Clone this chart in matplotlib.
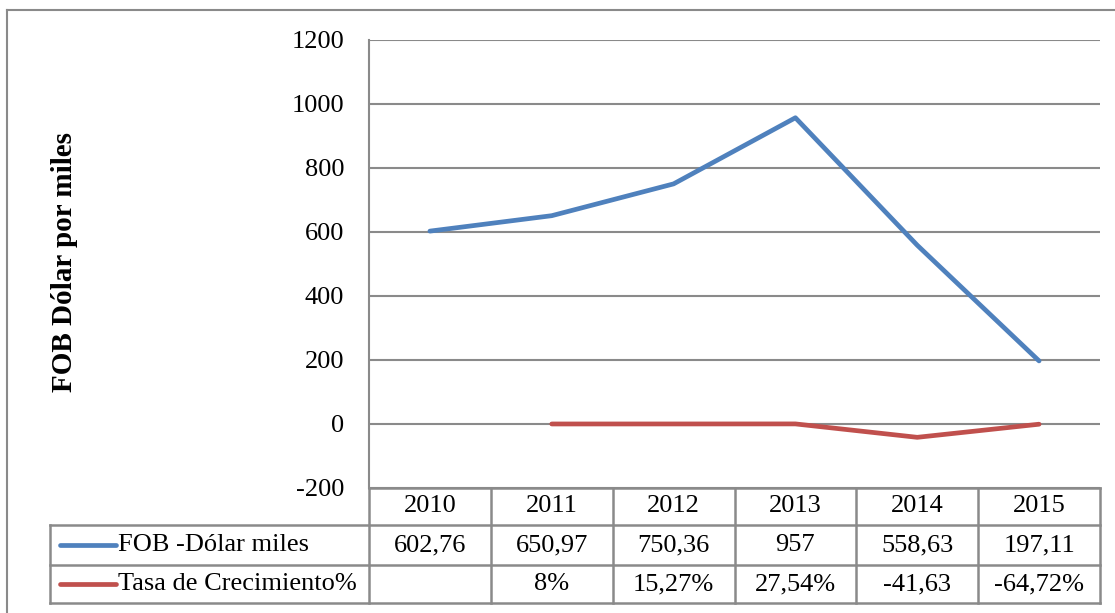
import matplotlib
matplotlib.use("Agg")
import matplotlib.pyplot as plt
import numpy as np
from matplotlib.lines import Line2D
from matplotlib.transforms import blended_transform_factory

years = ["2010", "2011", "2012", "2013", "2014", "2015"]
fob = [602.76, 650.97, 750.36, 957, 558.63, 197.11]
tasa = [np.nan, 0.08, 0.1527, 0.2754, -41.63, -0.6472]
fob_labels = ["602,76", "650,97", "750,36", "957", "558,63", "197,11"]
tasa_labels = ["", "8%", "15,27%", "27,54%", "-41,63", "-64,72%"]
series_names = ["FOB -Dólar miles", "Tasa de Crecimiento%"]
yticks = [-200, 0, 200, 400, 600, 800, 1000, 1200]

plt.rcParams['font.family'] = ['Liberation Serif', 'DejaVu Serif']

W, H = 1115, 613
fig = plt.figure(figsize=(W / 100, H / 100), dpi=100)
grid_c = "#8a8a8a"
blue = "#4F81BD"
red = "#C0504D"
fs = 19

def fx(px):
    return px / W

def fy(py):
    return 1 - py / H

x0, x1 = 369, 1100
y_top, y_bot = 40, 488
ax = fig.add_axes([fx(x0), fy(y_bot), fx(x1) - fx(x0), fy(y_top) - fy(y_bot)])
ax.set_xlim(-0.5, len(years) - 0.5)
ax.set_ylim(-200, 1200)
ax.set_yticks(yticks)
ax.set_yticklabels([str(t) for t in yticks], fontsize=fs)
ax.tick_params(axis='y', length=0, pad=18)
ax.set_xticks([])
for s in ["top", "right", "bottom"]:
    ax.spines[s].set_visible(False)
ax.spines["left"].set_color(grid_c)
ax.spines["left"].set_linewidth(1.5)
ax.grid(axis='y', color=grid_c, linewidth=1.5)
ax.set_axisbelow(True)

xs = np.arange(len(years))
ax.plot(xs, fob, color=blue, linewidth=3.4, solid_capstyle='round', solid_joinstyle='round', zorder=3)
ax.plot(xs, tasa, color=red, linewidth=3.4, solid_capstyle='round', solid_joinstyle='round', zorder=3)

# Data table below the axes
tr = blended_transform_factory(ax.transData, fig.transFigure)
row_lines = [488, 525, 565, 603]
tbl_kw = dict(color=grid_c, linewidth=1.8, clip_on=False)
fig.add_artist(Line2D([fx(x0), fx(x1)], [fy(488), fy(488)], **tbl_kw))
for yy in row_lines[1:]:
    fig.add_artist(Line2D([fx(50), fx(x1)], [fy(yy), fy(yy)], **tbl_kw))
for i in range(len(years) + 1):
    xv = i - 0.5
    fig.add_artist(Line2D([xv, xv], [fy(488), fy(603)], transform=tr, **tbl_kw))
fig.add_artist(Line2D([fx(50), fx(50)], [fy(525), fy(603)], **tbl_kw))

for i, yr in enumerate(years):
    fig.text(i, fy((488 + 525) / 2), yr, transform=tr, ha='center', va='center', fontsize=fs)
    fig.text(i, fy((525 + 565) / 2), fob_labels[i], transform=tr, ha='center', va='center', fontsize=fs)
    fig.text(i, fy((565 + 603) / 2), tasa_labels[i], transform=tr, ha='center', va='center', fontsize=fs)

for name, col, (ya, yb) in zip(series_names, [blue, red], [(525, 565), (565, 603)]):
    yc = fy((ya + yb) / 2)
    fig.add_artist(Line2D([fx(60), fx(116)], [yc, yc], color=col, linewidth=3.4, solid_capstyle='round'))
    fig.text(fx(118), yc, name, ha='left', va='center', fontsize=fs)

# y label
fig.text(fx(65), fy(262), "FOB Dólar por miles", rotation=90, ha='center', va='center',
         fontsize=21, fontweight='bold')

# outer border
fig.add_artist(Line2D([fx(7), fx(7)], [fy(10), 0], color=grid_c, linewidth=1.5))
fig.add_artist(Line2D([fx(7), 1], [fy(10), fy(10)], color=grid_c, linewidth=1.5))

fig.savefig("out.png", dpi=100)
